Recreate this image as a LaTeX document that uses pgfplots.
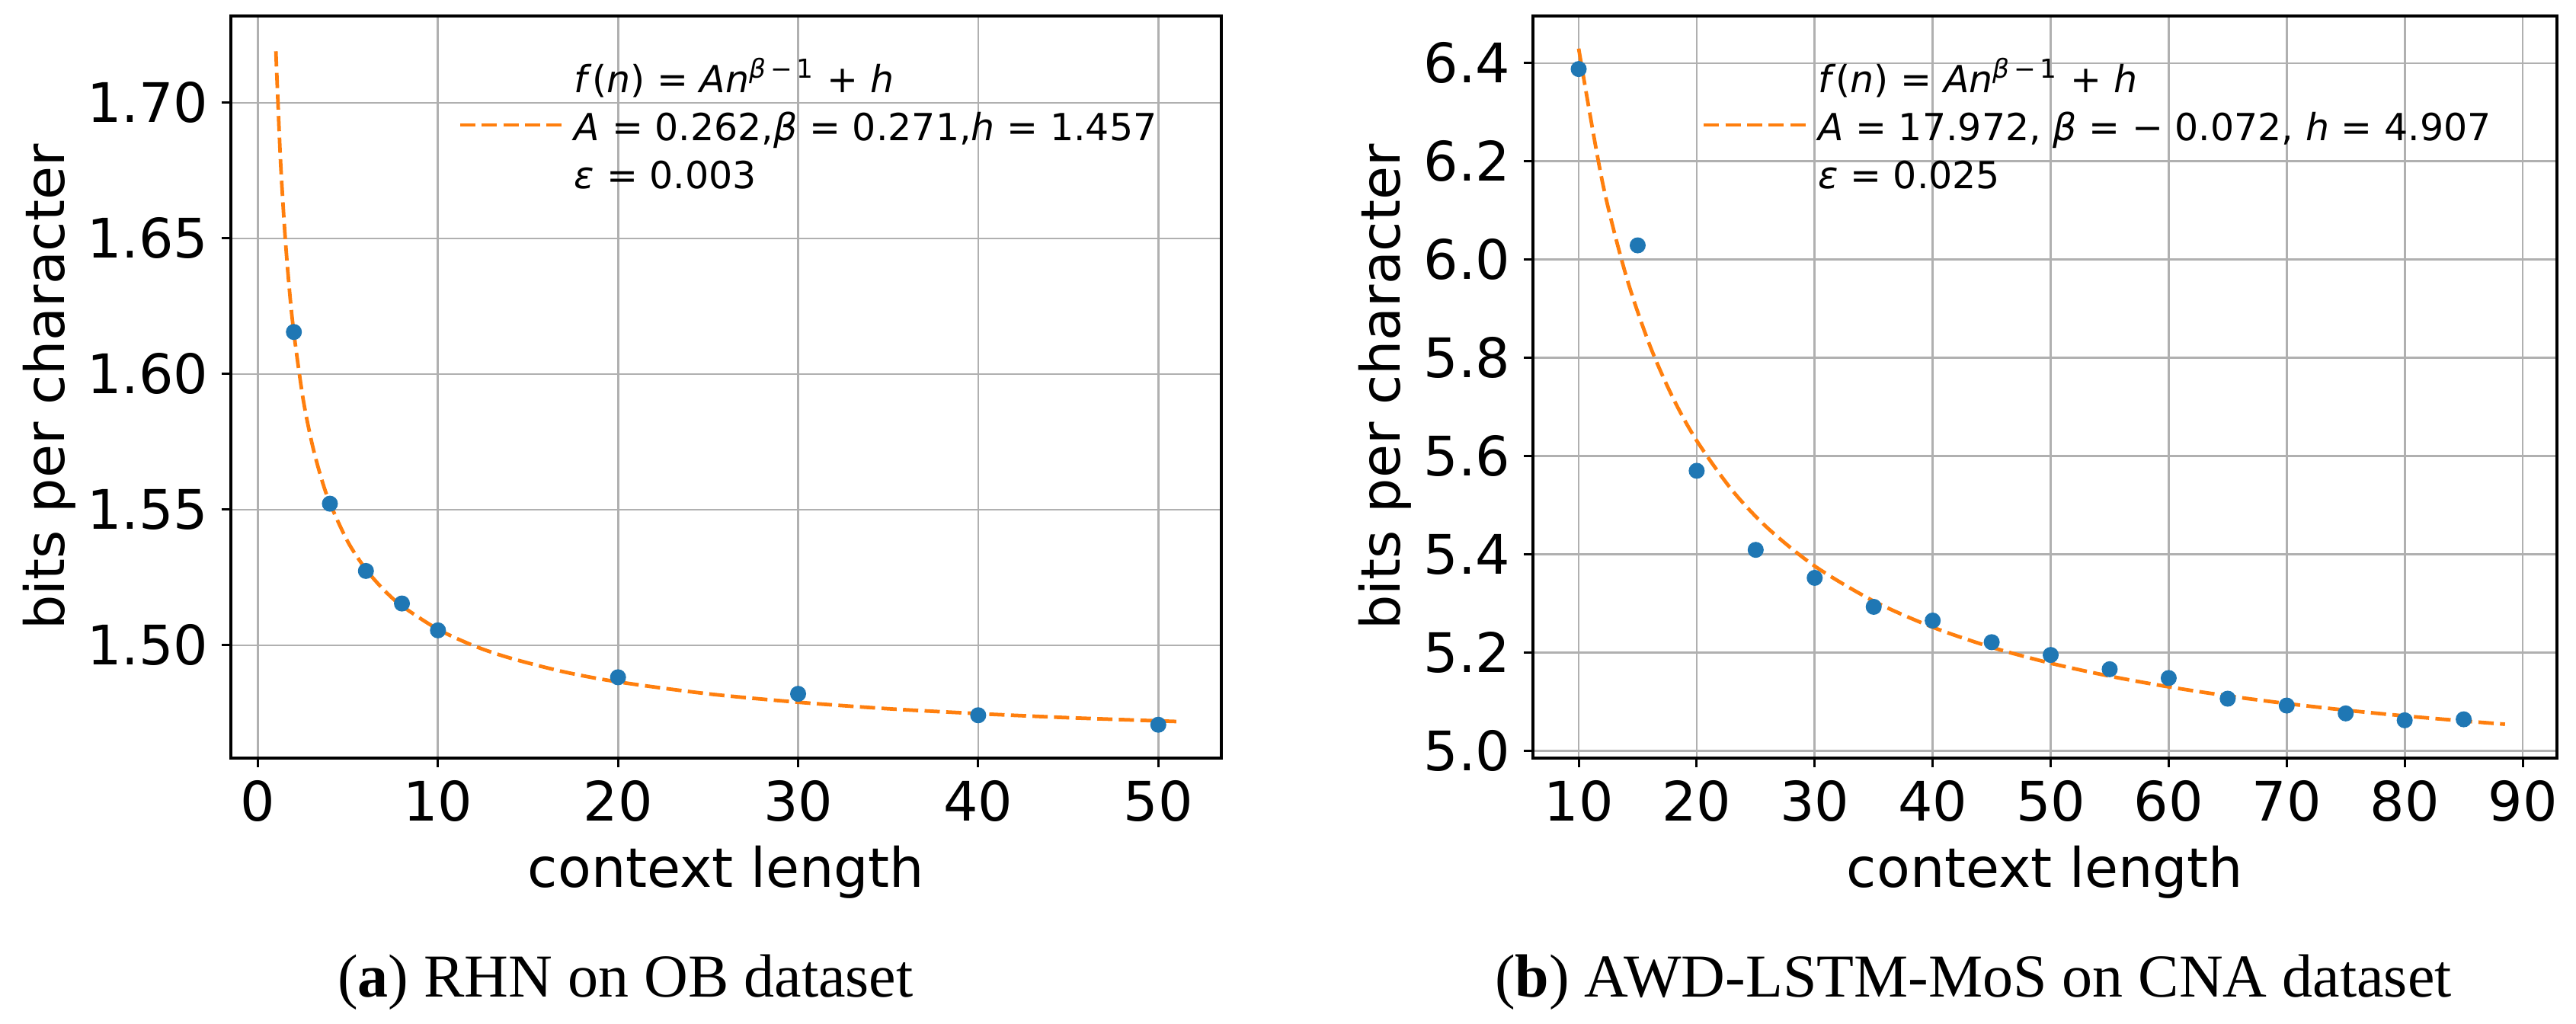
\documentclass[border=0pt]{standalone}
\usepackage{fontspec}
\setmainfont{DejaVu Sans}
\newfontfamily\capfont{Liberation Serif}
\usepackage{pgfplots}
\pgfplotsset{compat=1.18}
\definecolor{mplblue}{HTML}{1F77B4}
\definecolor{mplorange}{HTML}{FF7F0E}
\definecolor{gridgray}{HTML}{B0B0B0}

\pgfplotsset{
 myaxis/.style={
  scale only axis, anchor=south west,
  height=194.8pt,
  /pgf/number format/assume math mode=true,
  axis line style={line width=0.65pt, black},
  grid=major, grid style={gridgray, line width=0.55pt},
  tick align=outside, major tick length=2.4pt,
  every tick/.style={black, line width=0.6pt},
  xtick pos=bottom, ytick pos=left,
  scaled ticks=false,
  tick label style={font=\fontsize{14.3}{17}\selectfont},
  label style={font=\fontsize{14.3}{17}\selectfont},
  xlabel={context length}, ylabel={bits per character},
  xlabel style={at={(axis description cs:0.5,-0.1745)}, anchor=base},
  legend style={draw=none, fill=none, anchor=west, inner sep=0pt,
    font=\fontsize{9.8}{12.6}\selectfont, cells={anchor=west}},
  legend image code/.code={\draw[#1] (0pt,-6pt) -- (21.2pt,-6pt); \path (0pt,-6pt) -- (27.5pt,-6pt);},
 },
 pts/.style={only marks, mark=*, mark size=1.9pt, mplblue, mark options={draw=none, fill=mplblue}},
 fit/.style={mplorange, line width=0.95pt, dash pattern=on 4pt off 1.67pt, smooth, no marks},
}

\pgfplotstableread{
n bpc
2 1.6155
4 1.5522
6 1.5274
8 1.5154
10 1.5055
20 1.4882
30 1.4821
40 1.4742
50 1.4707
}\leftpts

\pgfplotstableread{
n f
1 1.7190
1.25 1.6797
1.5 1.6520
1.75 1.6312
2 1.6151
2.5 1.5913
3 1.5746
3.5 1.5621
4 1.5524
5 1.5381
6 1.5280
7 1.5204
8 1.5145
10 1.5059
12 1.4998
14 1.4953
17 1.4902
20 1.4865
25 1.4821
30 1.4790
35 1.4766
40 1.4748
45 1.4733
51 1.4719
}\leftfit

\pgfplotstableread{
n bpc
10 6.388
15 6.029
20 5.570
25 5.409
30 5.352
35 5.293
40 5.265
45 5.221
50 5.195
55 5.166
60 5.148
65 5.106
70 5.092
75 5.076
80 5.062
85 5.064
}\rightpts

\pgfplotstableread{
n f
10 6.4296
12 6.1593
14 5.9686
16 5.8270
18 5.7179
20 5.6314
23 5.5305
26 5.4537
30 5.3760
35 5.3046
40 5.2515
45 5.2106
50 5.1782
55 5.1519
60 5.1301
65 5.1117
70 5.0961
75 5.0826
80 5.0709
85 5.0606
88.5 5.0540
}\rightfit

\begin{document}
\begin{tikzpicture}
\path[use as bounding box] (0pt,0pt) rectangle (676.2pt,268.6pt);

\begin{axis}[myaxis,
  at={(60.6pt,69.6pt)}, width=260pt,
  xmin=-1.5, xmax=53.5, ymin=1.4584, ymax=1.732,
  xtick={0,10,20,30,40,50},
  ytick={1.50,1.55,1.60,1.65,1.70},
  yticklabel style={/pgf/number format/.cd, fixed, fixed zerofill, precision=2},
  ylabel style={at={(axis description cs:-0.1677,0.5)}, anchor=base},
  legend style={at={(rel axis cs:0.229,0.884)}},
]
\addplot[pts, forget plot] table[x=n, y=bpc] {\leftpts};
\addplot[fit] table[x=n, y=f] {\leftfit};
\addlegendentry{\begin{tabular}{@{}l@{}}\textit{f}(\textit{n}) = \textit{An}\textsuperscript{\textit{β}\,−\,1} + \textit{h}\\ \textit{A} = 0.262,\textit{β} = 0.271,\textit{h} = 1.457\\ \textit{ε} = 0.003\end{tabular}}
\end{axis}

\begin{axis}[myaxis,
  at={(402.4pt,69.6pt)}, width=268.8pt,
  xmin=6.126, xmax=92.906, ymin=4.985, ymax=6.496,
  xtick={10,20,30,40,50,60,70,80,90},
  ytick={5.0,5.2,5.4,5.6,5.8,6.0,6.2,6.4},
  yticklabel style={/pgf/number format/.cd, fixed, fixed zerofill, precision=1},
  ylabel style={at={(axis description cs:-0.1295,0.5)}, anchor=base},
  legend style={at={(rel axis cs:0.1644,0.884)}},
]
\addplot[pts, forget plot] table[x=n, y=bpc] {\rightpts};
\addplot[fit] table[x=n, y=f] {\rightfit};
\addlegendentry{\begin{tabular}{@{}l@{}}\textit{f}(\textit{n}) = \textit{An}\textsuperscript{\textit{β}\,−\,1} + \textit{h}\\ \textit{A} = 17.972, \textit{β} = − 0.072, \textit{h} = 4.907\\ \textit{ε} = 0.025\end{tabular}}
\end{axis}

\node[anchor=base, font=\capfont\fontsize{16}{19}\selectfont] at (164.2pt,7pt) {(\textbf{a}) RHN on OB dataset};
\node[anchor=base, font=\capfont\fontsize{16}{19}\selectfont] at (518pt,7pt) {(\textbf{b}) AWD-LSTM-MoS on CNA dataset};
\end{tikzpicture}
\end{document}
